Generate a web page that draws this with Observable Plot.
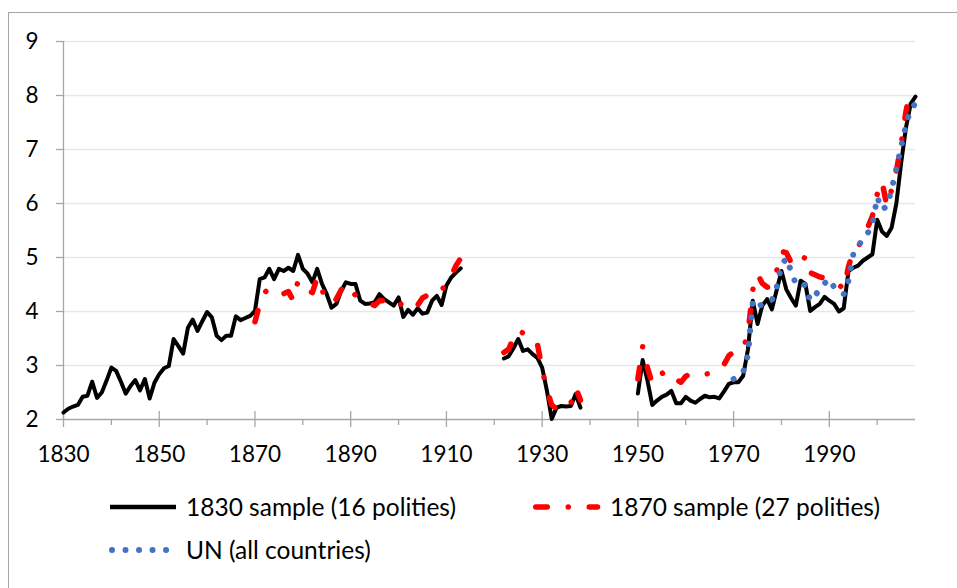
<!DOCTYPE html>
<html><head><meta charset="utf-8">
<script src="https://cdn.jsdelivr.net/npm/d3@7"></script>
<script src="https://cdn.jsdelivr.net/npm/@observablehq/plot@0.6"></script>
<style>
html,body{margin:0;padding:0;background:#fff;width:957px;height:588px;overflow:hidden;font-family:Lato,"Open Sans",sans-serif;}
#chart{position:absolute;left:0;top:0;}
#frame{position:absolute;left:8px;top:12px;width:1200px;height:1000px;border:1px solid #a6a6a6;z-index:2;pointer-events:none;}
.leg{position:absolute;height:30px;line-height:30px;font-size:24.5px;color:#000;white-space:nowrap;}
.sw{position:absolute;}
</style></head><body>
<div id="chart"></div>
<div id="frame"></div>
<div id="legend"></div>
<script>
// ---- data ----
const xDomain = [1830, 2008];
const yTicks = [2, 3, 4, 5, 6, 7, 8, 9];
const xMajorTicks = [1830, 1850, 1870, 1890, 1910, 1930, 1950, 1970, 1990];
const xMinorTicks = [1840, 1860, 1880, 1900, 1920, 1940, 1960, 1980, 2000];
const seriesNames = ["1830 sample (16 polities)", "1870 sample (27 polities)", "UN (all countries)"];

// 1830 sample, 1830–1913
const black_1830 = [2.13,2.20,2.24,2.27,2.42,2.44,2.70,2.40,2.50,2.72,
  2.96,2.90,2.70,2.48,2.62,2.73,2.54,2.75,2.39,2.68,
  2.84,2.95,2.99,3.49,3.36,3.22,3.70,3.85,3.64,3.82,
  3.99,3.89,3.55,3.47,3.55,3.55,3.91,3.84,3.88,3.92,
  4.01,4.60,4.63,4.79,4.60,4.79,4.75,4.81,4.75,5.05,
  4.79,4.70,4.54,4.79,4.51,4.32,4.07,4.14,4.38,4.54,
  4.51,4.51,4.20,4.14,4.15,4.17,4.32,4.23,4.17,4.11,
  4.26,3.90,4.03,3.94,4.06,3.96,3.98,4.20,4.29,4.12,
  4.48,4.63,4.72,4.80];
// 1830 sample, 1922–1938
const black_1922 = [3.13,3.17,3.32,3.49,3.27,3.30,3.21,3.14,2.96,2.53,2.01,2.22,2.25,2.24,2.25,2.47,2.22];
// 1830 sample, 1950–2008
const black_1950 = [2.48,3.10,2.72,2.27,2.35,2.42,2.46,2.53,2.30,2.30,
  2.42,2.35,2.31,2.38,2.44,2.41,2.42,2.39,2.52,2.66,
  2.69,2.69,2.81,3.30,4.20,3.77,4.11,4.23,4.04,4.40,
  4.75,4.41,4.25,4.11,4.57,4.51,4.01,4.08,4.14,4.27,
  4.20,4.14,4.00,4.06,4.75,4.81,4.85,4.94,5.00,5.06,
  5.70,5.48,5.40,5.55,6.00,6.75,7.40,7.85,7.98];

// 1870 sample, 1870–1913
const red_1870 = [3.81,4.14,4.35,4.43,4.40,4.33,4.33,4.37,4.20,4.57,
  4.50,4.40,4.35,4.63,4.40,4.20,4.15,4.23,4.40,4.51,
  4.40,4.30,4.25,4.22,4.15,4.11,4.20,4.20,4.18,4.22,
  4.20,4.07,4.14,4.14,4.12,4.25,4.30,4.37,4.35,4.38,
  4.55,4.66,4.85,4.99];
// 1870 sample, 1922–1938
const red_1922 = [3.24,3.30,3.51,3.66,3.60,3.58,3.50,3.40,2.93,2.54,2.27,2.20,2.22,2.19,2.30,2.59,2.36];
// 1870 sample, 1950–2007
const red_1950 = [2.75,3.35,2.96,2.66,2.75,2.85,2.90,2.85,2.74,2.69,
  2.80,2.85,2.82,2.83,2.84,2.85,2.88,2.92,3.02,3.18,
  3.25,3.28,3.30,3.60,4.40,4.69,4.52,4.45,4.48,4.75,
  5.11,5.09,4.91,4.88,4.85,5.03,4.72,4.68,4.64,4.62,
  4.60,4.55,4.50,4.41,4.83,5.12,5.17,5.42,5.55,5.77,
  6.17,6.41,5.96,6.25,6.60,7.10,7.70,8.14];

// UN (all countries), 1970–2008
const un_1970 = [2.75,2.80,2.88,3.20,4.17,4.06,4.15,4.18,4.21,4.45,
  4.85,4.99,4.75,4.51,4.54,4.48,4.20,4.30,4.40,4.52,
  4.60,4.45,4.38,4.32,4.57,5.06,5.20,5.35,5.45,5.60,
  6.12,5.88,5.95,6.25,6.65,7.05,7.45,7.75,7.85];

// ---- build tables ----
function seg(id, start, vals) { return vals.map((v, i) => ({seg: id, year: start + i, value: v})); }
const blackData = [...seg("a", 1830, black_1830), ...seg("b", 1922, black_1922), ...seg("c", 1950, black_1950)];
const redData = [...seg("a", 1870, red_1870), ...seg("b", 1922, red_1922), ...seg("c", 1950, red_1950)];
const unData = seg("a", 1970, un_1970);

const axisGray = "#a6a6a6";
const gridGray = "#e8e8e8";
const colors = {black: "#000000", red: "#ff0000", blue: "#4472c4"};
const redDash = "11.5,21,0.01,21";
const blueDash = "0.01,13.5";

const chart = Plot.plot({
  width: 957,
  height: 475,
  marginLeft: 63,
  marginRight: 42,
  marginTop: 41,
  marginBottom: 56,
  style: {fontFamily: "Lato, 'Open Sans', sans-serif", fontSize: "22px", background: "transparent", color: "#000"},
  x: {type: "linear", domain: xDomain, label: null},
  y: {domain: [yTicks[0], yTicks[yTicks.length - 1]], label: null},
  marks: [
    Plot.gridY(yTicks.slice(1), {stroke: gridGray, strokeOpacity: 1, strokeWidth: 1.3}),
    Plot.ruleX([xDomain[0]], {stroke: axisGray, strokeWidth: 1.3}),
    Plot.ruleY([yTicks[0]], {stroke: axisGray, strokeWidth: 1.3}),
    Plot.axisY({ticks: yTicks, tickSize: 7, tickPadding: 18, stroke: axisGray, strokeWidth: 1.3, fontSize: 22.5, tickFormat: "d"}),
    Plot.axisX({ticks: xMajorTicks, tickSize: 8, tickPadding: 19, stroke: axisGray, strokeWidth: 1.3, fontSize: 22.5, tickFormat: "d"}),
    Plot.axisX({ticks: xMajorTicks, tickSize: 8, dy: -8, stroke: axisGray, strokeWidth: 1.3, tickFormat: () => ""}),
    Plot.axisX({ticks: xMinorTicks, tickSize: 6, stroke: axisGray, strokeWidth: 1.3, tickFormat: () => ""}),
    Plot.line(blackData, {x: "year", y: "value", z: "seg", stroke: colors.black, strokeWidth: 4, strokeLinejoin: "round", strokeLinecap: "round"}),
    Plot.line(redData, {x: "year", y: "value", z: "seg", stroke: colors.red, strokeWidth: 5.5, strokeDasharray: redDash, strokeLinecap: "round", strokeLinejoin: "round"}),
    Plot.line(unData, {x: "year", y: "value", z: "seg", stroke: colors.blue, strokeWidth: 6, strokeDasharray: blueDash, strokeLinecap: "round", strokeLinejoin: "round"})
  ]
});
document.getElementById("chart").appendChild(chart);

// ---- legend ----
const legend = document.getElementById("legend");
const NS = "http://www.w3.org/2000/svg";
function swatch(left, top, w, stroke, sw, dash, cap, x1, x2) {
  const s = document.createElementNS(NS, "svg");
  s.setAttribute("width", w); s.setAttribute("height", 16);
  s.setAttribute("class", "sw");
  s.style.left = left + "px"; s.style.top = (top - 8) + "px";
  const l = document.createElementNS(NS, "line");
  l.setAttribute("x1", x1); l.setAttribute("x2", x2);
  l.setAttribute("y1", 8); l.setAttribute("y2", 8);
  l.setAttribute("stroke", stroke); l.setAttribute("stroke-width", sw);
  if (dash) l.setAttribute("stroke-dasharray", dash);
  l.setAttribute("stroke-linecap", cap);
  s.appendChild(l);
  legend.appendChild(s);
}
function label(left, cy, text) {
  const d = document.createElement("div");
  d.className = "leg"; d.textContent = text;
  d.style.left = left + "px"; d.style.top = (cy - 15) + "px";
  legend.appendChild(d);
}
swatch(110, 507, 66, colors.black, 4.5, null, "butt", 0, 66);
label(186, 507, seriesNames[0]);
swatch(533, 507, 68, colors.red, 5.5, redDash, "round", 2.75, 64.5);
label(610, 507, seriesNames[1]);
swatch(106, 550, 66, colors.blue, 6, blueDash, "round", 6, 60.5);
label(186, 550, seriesNames[2]);
</script>
</body></html>
